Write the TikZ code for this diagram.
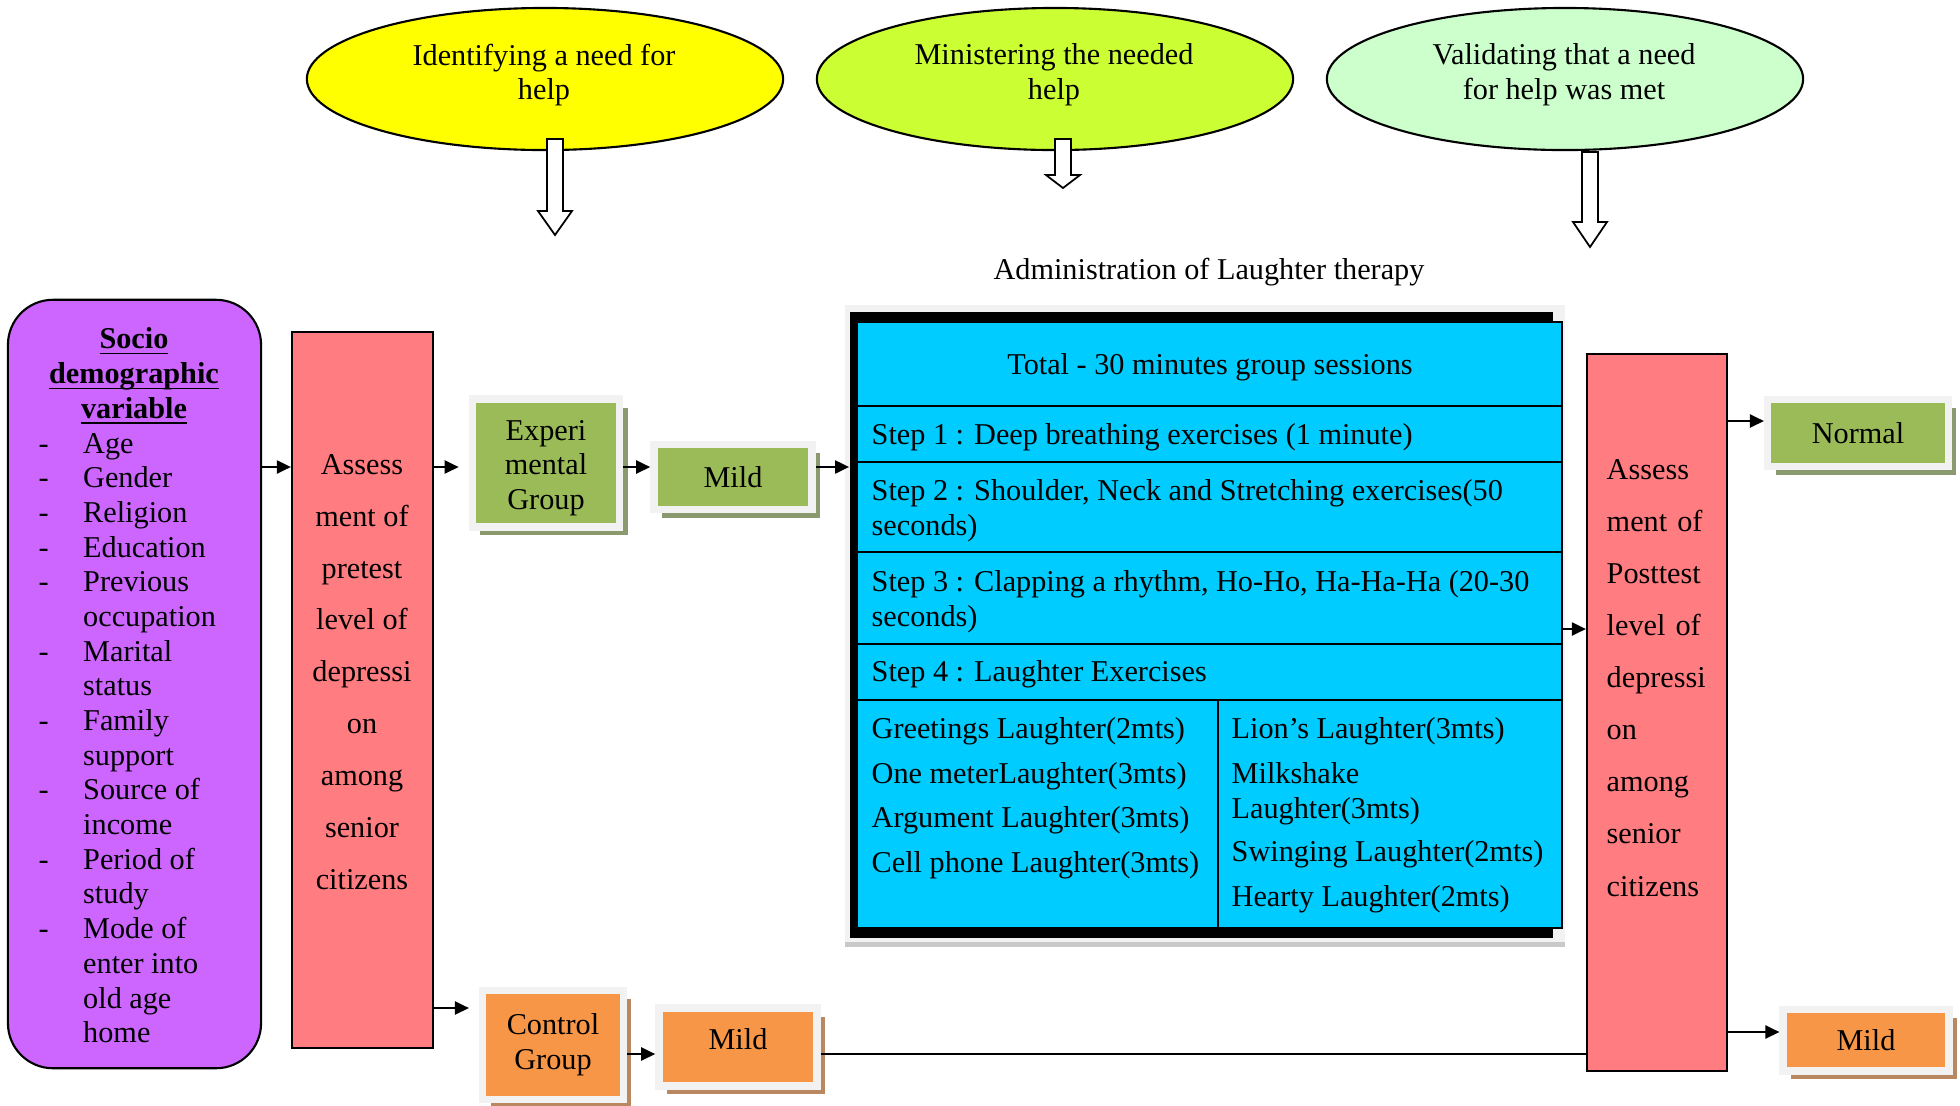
\documentclass[tikz,border=0pt]{standalone}
\usepackage{fontspec}
\setmainfont{Liberation Serif}
\usetikzlibrary{shapes.geometric,arrows.meta,shadows}
\definecolor{socpurple}{HTML}{CC66FF}
\definecolor{pinkred}{HTML}{FF7C80}
\definecolor{grn}{HTML}{9BBB59}
\definecolor{orng}{HTML}{F79646}
\definecolor{skyblue}{HTML}{00CCFF}
\definecolor{yel}{HTML}{FFFF00}
\definecolor{lime}{HTML}{CCFF33}
\definecolor{mint}{HTML}{CCFFCC}
\definecolor{framegray}{HTML}{F2F2F2}
\definecolor{grnshade}{HTML}{6E7F4A}
\definecolor{orngshade}{HTML}{A86A3A}
\newcommand{\ulword}[1]{\underline{\smash{#1}}}
\tikzset{
  box/.style={draw, line width=0.6pt, inner sep=0pt},
  bubble/.style={ellipse, draw, line width=0.6pt, minimum width=4.76cm, minimum height=1.42cm, inner sep=0pt},
  framed/.style={draw=framegray, line width=0.075cm, inner sep=0pt, align=center,
    drop shadow={shadow xshift=0.08cm, shadow yshift=-0.085cm, fill=#1, opacity=0.8}},
  cell/.style={anchor=west, inner xsep=0pt, align=left},
  arr/.style={-{Triangle[length=1.4mm,width=1.3mm]}, line width=0.6pt},
}
\begin{document}
\fontsize{8.6}{9.86}\selectfont
\begin{tikzpicture}[x=0.01cm, y=-0.01cm]
\useasboundingbox (0,0) rectangle (1960,1105);

\node[bubble, fill=yel] (need) at (545,79) {};
\node[bubble, fill=lime] (minister) at (1055,79) {};
\node[bubble, fill=mint] (validate) at (1565,79) {};
\node[align=center] (needtxt) at (544,75) {Identifying a need for\\help};
\node[align=center] (ministertxt) at (1054,75) {Ministering the needed\\help};
\node[align=center] (validatetxt) at (1564,75) {Validating that a need\\for help was met};
\foreach \x/\ya/\yb/\yc in {555/139/211/235, 1063/139/175/188, 1590/152/222/247}
  \draw[fill=white, line width=0.5pt] (\x-8,\ya) -- (\x+8,\ya) -- (\x+8,\yb) -- (\x+17,\yb) -- (\x,\yc) -- (\x-17,\yb) -- (\x-8,\yb) -- cycle;

\node (adm) at (1209,272.5) {Administration of Laughter therapy};

\node[box, fill=socpurple, rounded corners=0.45cm, minimum width=2.53cm, minimum height=7.68cm] (soc) at (134.5,684) {};
\node[font=\bfseries, align=center] (sochead) at (134,387) {\ulword{Socio}\\\ulword{demographic}\\\ulword{variable}};
\node[anchor=west, inner sep=0pt] (soclist) at (38,741) {\begin{tabular}{@{}p{0.445cm}@{}l@{}}
- & Age\\ - & Gender\\ - & Religion\\ - & Education\\ - & Previous\\ & occupation\\ - & Marital\\ & status\\
- & Family\\ & support\\ - & Source of\\ & income\\ - & Period of\\ & study\\ - & Mode of\\ & enter into\\ & old age\\ & home
\end{tabular}};

\node[box, fill=pinkred, minimum width=1.41cm, minimum height=7.16cm] (pre) at (362.5,690) {};
\node[align=center, font=\fontsize{8.6}{14.75}\selectfont] (pretxt) at (362,672) {Assess\\ment of\\pretest\\level of\\depressi\\on\\among\\senior\\citizens};

\node[framed=grnshade, fill=grn, minimum width=1.47cm, minimum height=1.275cm] (exp) at (546,463) {\raisebox{-1.4pt}[\height][\depth]{\begin{tabular}{@{}c@{}}Experi\\mental\\Group\hspace{7pt}\end{tabular}}};
\node[framed=grnshade, fill=grn, minimum width=1.58cm, minimum height=0.645cm] (mildexp) at (733,477) {Mild};
\node[framed=orngshade, fill=orng, minimum width=1.405cm, minimum height=1.085cm] (ctrl) at (553,1045) {Control\\Group};
\node[framed=orngshade, fill=orng, minimum width=1.58cm, minimum height=0.775cm] (mildctrl) at (738,1047) {\raisebox{2.1pt}[\height][\depth]{Mild}};

\node[fill=framegray, minimum width=7.2cm, minimum height=6.37cm, inner sep=0pt,
  drop shadow={shadow xshift=0cm, shadow yshift=-0.05cm, fill=gray!60, opacity=0.7}] (tabfrm) at (1205,623.5) {};
\node[fill=black, minimum width=7.03cm, minimum height=6.26cm, inner sep=0pt] (tab) at (1201.5,625) {};
\node[fill=skyblue, draw, line width=0.5pt, minimum width=7.05cm, minimum height=6.06cm, inner sep=0pt] (tabin) at (1209.5,625) {};
\foreach \y in {406,462,552,644,700}
  \draw[line width=0.8pt] (857,\y) -- (1562,\y);
\draw[line width=0.8pt] (1218,700) -- (1218,928);
\node (total) at (1210,367.5) {Total - 30 minutes group sessions};
\node[cell] (step1) at (871,437.5) {Step 1 : Deep breathing exercises (1 minute)};
\node[cell] (step2) at (871,511) {Step 2 : Shoulder, Neck and Stretching exercises(50\\seconds)};
\node[cell] (step3) at (871,602) {Step 3 : Clapping a rhythm, Ho-Ho, Ha-Ha-Ha (20-30\\seconds)};
\node[cell] (step4) at (871,674.5) {Step 4 : Laughter Exercises};
\foreach \t [count=\i] in {Greetings Laughter(2mts), One meterLaughter(3mts), Argument Laughter(3mts), Cell phone Laughter(3mts)}
  \node[cell] (left\i) at (871,731.5+44.5*\i-44.5) {\t};
\node[cell] (lion) at (1231,731.5) {Lion’s Laughter(3mts)};
\node[cell] (milk) at (1231,793.5) {Milkshake\\Laughter(3mts)};
\node[cell] (swing) at (1231,854.5) {Swinging Laughter(2mts)};
\node[cell] (hearty) at (1231,899.5) {Hearty Laughter(2mts)};

\node[box, fill=pinkred, minimum width=1.40cm, minimum height=7.17cm] (post) at (1657,712.5) {};
\node[anchor=west, text width=1.04cm, align=left, inner sep=0pt, font=\fontsize{8.6}{14.8}\selectfont] (posttxt) at (1606,678)
  {Assess\\\makebox[1.04cm][s]{ment of}\\Posttest\\\makebox[1.04cm][s]{level of}\\depressi\\on\\among\\senior\\citizens};

\node[framed=grnshade, fill=grn, minimum width=1.805cm, minimum height=0.67cm] (normal) at (1858,433) {Normal};
\node[framed=orngshade, fill=orng, minimum width=1.655cm, minimum height=0.615cm] (mildpost) at (1866,1040) {Mild};

\coordinate (lvlA) at (0,467);
\coordinate (lvlB) at (0,1008);
\coordinate (lvlC) at (0,1054);
\coordinate (lvlD) at (0,629);
\coordinate (lvlE) at (0,421);
\coordinate (lvlF) at (0,1032);
\draw[arr] (soc.east |- lvlA) -- (pre.west |- lvlA);
\draw[arr, shorten >=1mm] (pre.east |- lvlA) -- (exp.west |- lvlA);
\draw[arr] (exp.east |- lvlA) -- (mildexp.west |- lvlA);
\draw[arr] (mildexp.east |- lvlA) -- (tab.west |- lvlA);
\draw[arr, shorten >=1mm] (pre.east |- lvlB) -- (ctrl.west |- lvlB);
\draw[arr] (ctrl.east |- lvlC) -- (mildctrl.west |- lvlC);
\draw[line width=0.6pt] (mildctrl.east |- lvlC) -- (post.west |- lvlC);
\draw[arr] (tabin.east |- lvlD) -- (post.west |- lvlD);
\draw[arr] (post.east |- lvlE) -- (normal.west |- lvlE);
\draw[arr] (post.east |- lvlF) -- (mildpost.west |- lvlF);
\end{tikzpicture}
\end{document}
